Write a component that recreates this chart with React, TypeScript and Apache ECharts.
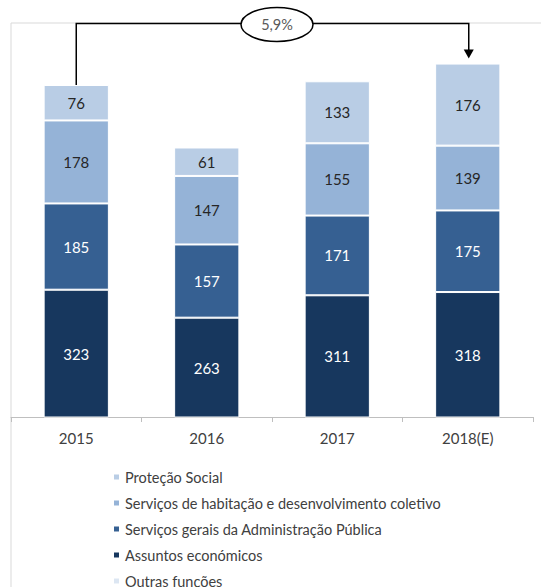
import React, { useEffect, useRef } from "react";
import * as echarts from "echarts";

const categories = ["2015", "2016", "2017", "2018(E)"];
const assuntosEconomicos = [323, 263, 311, 318];
const servicosGerais = [185, 157, 171, 175];
const servicosHabitacao = [178, 147, 155, 139];
const protecaoSocial = [76, 61, 133, 176];
const outrasFuncoes: (number | null)[] = [null, null, null, null];
const growthLabel = "5,9%";

const seriesNames = [
  "Proteção Social",
  "Serviços de habitação e desenvolvimento coletivo",
  "Serviços gerais da Administração Pública",
  "Assuntos económicos",
  "Outras funções",
];

const FONT = "Lato, 'Open Sans', sans-serif";

export default function App() {
  const ref = useRef<HTMLDivElement>(null);
  useEffect(() => {
    if (!ref.current) return;
    const chart = echarts.init(ref.current, undefined, { renderer: "svg" });
    const mk = (name: string, data: (number | null)[], color: string, labelColor: string) => ({
      name,
      type: "bar",
      stack: "total",
      data,
      barWidth: "50%",
      itemStyle: { color, borderColor: "#ffffff", borderWidth: 1 },
      label: {
        show: true,
        position: "inside",
        color: labelColor,
        fontSize: 15,
        fontFamily: FONT,
      },
    });
    const legendText = { color: "#404040", fontSize: 14.5, fontFamily: FONT, lineHeight: 16 };
    chart.setOption({
      animation: false,
      grid: { left: 11, right: 8, top: 23, bottom: 170 },
      xAxis: {
        type: "category",
        data: categories,
        axisLine: { lineStyle: { color: "#bfbfbf", width: 1 } },
        axisTick: { show: true, length: 5, lineStyle: { color: "#bfbfbf" } },
        axisLabel: { color: "#404040", fontSize: 15, fontFamily: FONT, margin: 13 },
      },
      yAxis: {
        type: "value",
        min: 50,
        max: 895,
        show: false,
        splitLine: { show: false },
      },
      legend: [
        {
          orient: "vertical",
          left: 112,
          top: 469,
          padding: 0,
          itemWidth: 7,
          itemHeight: 7,
          itemGap: 10,
          icon: "rect",
          data: seriesNames.slice(0, 4),
          textStyle: legendText,
        },
        {
          orient: "vertical",
          left: 112,
          top: 573,
          padding: 0,
          itemWidth: 7,
          itemHeight: 7,
          icon: "rect",
          data: seriesNames.slice(4),
          textStyle: legendText,
        },
      ],
      series: [
        mk(seriesNames[3], assuntosEconomicos, "#17375e", "#ffffff"),
        mk(seriesNames[2], servicosGerais, "#366092", "#ffffff"),
        mk(seriesNames[1], servicosHabitacao, "#95b3d7", "#262626"),
        mk(seriesNames[0], protecaoSocial, "#b9cde5", "#262626"),
        mk(seriesNames[4], outrasFuncoes, "#dce6f2", "#262626"),
      ],
    });

    const totals = categories.map(
      (_, i) => assuntosEconomicos[i] + servicosGerais[i] + servicosHabitacao[i] + protecaoSocial[i]
    );
    const first = 0;
    const last = categories.length - 1;
    const pFirst = chart.convertToPixel({ gridIndex: 0 }, [first, totals[first]]) as number[];
    const pLast = chart.convertToPixel({ gridIndex: 0 }, [last, totals[last]]) as number[];
    const topY = 23.5;
    const x0 = pFirst[0];
    const x1 = pLast[0] + 1;
    const tipY = pLast[1] - 5;
    const midX = 277;

    chart.setOption({
      graphic: [
        {
          type: "rect",
          shape: { x: 11, y: 23, width: 560, height: 600 },
          style: { fill: "none", stroke: "#d9d9d9", lineWidth: 1 },
          silent: true,
          z: 0,
        },
        {
          type: "polyline",
          shape: { points: [[x0, pFirst[1]], [x0, topY], [x1, topY], [x1, tipY - 8]] },
          style: { stroke: "#000000", lineWidth: 1.5, fill: "none" },
          z: 10,
        },
        {
          type: "polygon",
          shape: { points: [[x1 - 5, tipY - 9], [x1 + 5, tipY - 9], [x1, tipY]] },
          style: { fill: "#000000" },
          z: 10,
        },
        {
          type: "ellipse",
          shape: { cx: midX, cy: 24.5, rx: 36, ry: 17 },
          style: { fill: "#ffffff", stroke: "#000000", lineWidth: 1.5 },
          z: 11,
        },
        {
          type: "text",
          x: midX,
          y: 24.5,
          style: {
            text: growthLabel,
            fill: "#595959",
            fontSize: 14.5,
            fontFamily: FONT,
            align: "center",
            verticalAlign: "middle",
          },
          z: 12,
        },
      ],
    });
    return () => chart.dispose();
  }, []);
  return (
    <div
      ref={ref}
      style={{ position: "fixed", left: 0, top: 0, width: 541, height: 587, background: "#ffffff" }}
    />
  );
}
